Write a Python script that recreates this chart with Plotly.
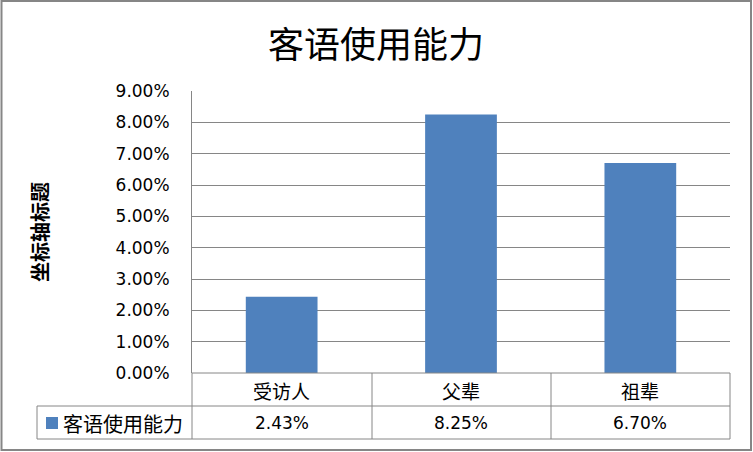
import plotly.graph_objects as go

# ---- data ----
categories = ["受访人", "父辈", "祖辈"]
values = [0.0243, 0.0825, 0.0670]
series_name = "客语使用能力"
chart_title = "客语使用能力"
y_title = "坐标轴标题"
y_max = 0.09
y_step = 0.01

# ---- layout geometry (pixels) ----
W, H = 753, 452
L, R, T, B = 192, 730, 91, 373
GRAY = "#868686"
BLUE = "#4F81BD"
CJK = "Noto Sans CJK SC"
NUM = "DejaVu Sans"


def fx(p):
    return (p - L) / (R - L)


def fy(p):
    return (B - p) / (B - T)


fig = go.Figure()
fig.add_trace(go.Bar(
    x=categories, y=values, name=series_name,
    marker=dict(color=BLUE, line=dict(width=0)),
    width=0.4, showlegend=False, hoverinfo="skip",
))

shapes = []


def hline(y, x0, x1):
    shapes.append(dict(type="line", xref="paper", yref="paper",
                       x0=fx(x0), x1=fx(x1), y0=fy(y), y1=fy(y),
                       line=dict(color=GRAY, width=1)))


def vline(x, y0, y1):
    shapes.append(dict(type="line", xref="paper", yref="paper",
                       x0=fx(x), x1=fx(x), y0=fy(y0), y1=fy(y1),
                       line=dict(color=GRAY, width=1)))


# data table lines
hline(373, L, R)
hline(406, 37, R)
hline(439, 37, R)
vline(37, 406, 439)
vline(L, 373, 439)
vline(372, 373, 439)
vline(551, 373, 439)
vline(R, 373, 439)

# legend key square
shapes.append(dict(type="rect", xref="paper", yref="paper",
                   x0=fx(46), x1=fx(58), y0=fy(429), y1=fy(417),
                   fillcolor=BLUE, line=dict(width=0)))

# outer chart border
shapes.append(dict(type="rect", xref="paper", yref="paper",
                   x0=fx(1.5), x1=fx(751), y0=fy(450), y1=fy(1),
                   line=dict(color=GRAY, width=2), fillcolor="rgba(0,0,0,0)"))

annotations = []
for i, (c, v) in enumerate(zip(categories, values)):
    annotations.append(dict(xref="x", yref="paper", x=c, y=fy(390),
                            text=c, showarrow=False, xanchor="center", yanchor="middle",
                            font=dict(family=CJK, size=19, color="#000000")))
    annotations.append(dict(xref="x", yref="paper", x=c, y=fy(423),
                            text=f"{v * 100:.2f}%", showarrow=False,
                            xanchor="center", yanchor="middle",
                            font=dict(family=NUM, size=17, color="#000000")))

annotations.append(dict(xref="paper", yref="paper", x=fx(61), y=fy(423),
                        text=series_name, showarrow=False, xanchor="left", yanchor="middle",
                        font=dict(family=CJK, size=20, color="#000000")))

annotations.append(dict(xref="paper", yref="paper", x=fx(39), y=fy(232),
                        text=f"<b>{y_title}</b>", showarrow=False, textangle=-90,
                        xanchor="center", yanchor="middle",
                        font=dict(family=CJK, size=20, color="#000000")))

annotations.append(dict(xref="paper", yref="paper", x=fx(376), y=fy(42),
                        text=chart_title, showarrow=False, xanchor="center", yanchor="middle",
                        font=dict(family=CJK, size=36, color="#000000")))

fig.update_layout(
    width=W, height=H,
    margin=dict(l=L, r=W - R, t=T, b=H - B, pad=0),
    paper_bgcolor="white", plot_bgcolor="white",
    shapes=shapes, annotations=annotations,
    bargap=0.6,
    xaxis=dict(type="category", range=[-0.5, len(categories) - 0.5],
               showticklabels=False, showgrid=False, showline=False,
               zeroline=False, ticks="", fixedrange=True),
    yaxis=dict(range=[0, y_max], dtick=y_step, tick0=0, tickformat=".2%",
               showgrid=True, gridcolor=GRAY, gridwidth=1,
               showline=True, linecolor=GRAY, linewidth=1, zeroline=False,
               ticks="", ticklabelstandoff=18,
               tickfont=dict(family=NUM, size=17, color="#000000"),
               fixedrange=True),
)

fig.write_html(
    "out.html",
    config={"displayModeBar": False},
    post_script="document.body.style.margin='0';document.body.style.overflow='hidden';",
)
